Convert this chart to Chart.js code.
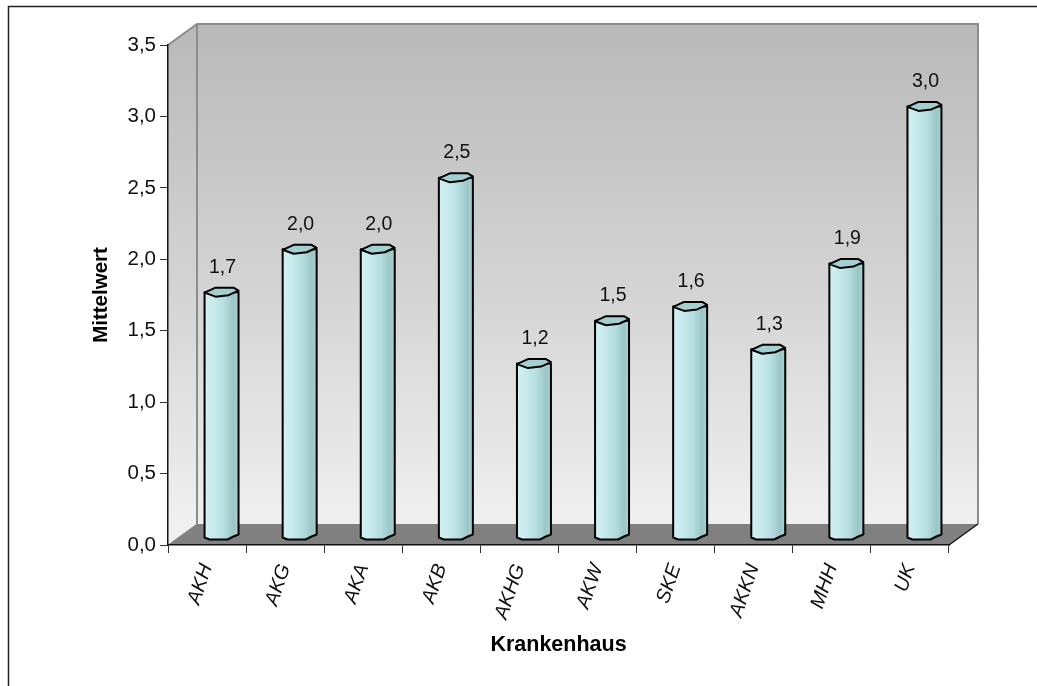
<!DOCTYPE html>
<html lang="de">
<head>
<meta charset="utf-8">
<title>Mittelwert je Krankenhaus</title>
<script src="https://cdn.jsdelivr.net/npm/chart.js@4/dist/chart.umd.min.js"></script>
<style>
html,body{margin:0;padding:0;background:#fff}
#wrap{position:relative;width:1037px;height:686px}
</style>
</head>
<body>
<div id="wrap"><canvas id="c" width="1037" height="686"></canvas></div>
<script>
const hospitals = ['AKH','AKG','AKA','AKB','AKHG','AKW','SKE','AKKN','MHH','UK'];
const meanValues = [1.7,2.0,2.0,2.5,1.2,1.5,1.6,1.3,1.9,3.0];
const yAxisMax = 3.5;
const yAxisStep = 0.5;
const xAxisTitle = 'Krankenhaus';
const yAxisTitle = 'Mittelwert';

const FONT = '"Liberation Sans", Arial, sans-serif';
const decimal = v => v.toFixed(1).replace('.', ',');

// Depth of the pseudo-3D box, and of the bars standing in its middle.
const WALL_DX = 29, WALL_DY = -21;
const BAR_DX = 14.5, BAR_DY = -10;

function fillPoly(ctx, pts, fill) {
  ctx.beginPath();
  pts.forEach((p, i) => i ? ctx.lineTo(p[0], p[1]) : ctx.moveTo(p[0], p[1]));
  ctx.closePath();
  ctx.fillStyle = fill;
  ctx.fill();
}

const box3d = {
  id: 'box3d',
  beforeDraw(chart) {
    const {ctx, chartArea: a} = chart;
    ctx.save();
    ctx.fillStyle = '#fff';
    ctx.fillRect(0, 0, chart.width, chart.height);

    // Page frame: only the top and left edges are ruled.
    ctx.strokeStyle = '#222';
    ctx.lineWidth = 1.5;
    ctx.beginPath();
    ctx.moveTo(8.5, 686);
    ctx.lineTo(8.5, 6.5);
    ctx.lineTo(1037, 6.5);
    ctx.stroke();

    const bx = a.left + WALL_DX, bt = a.top + WALL_DY, bb = a.bottom + WALL_DY, br = a.right + WALL_DX;
    const wall = ctx.createLinearGradient(0, bt, 0, bb);
    wall.addColorStop(0, '#b9b9b9');
    wall.addColorStop(0.55, '#d5d5d5');
    wall.addColorStop(1, '#f0f0f0');
    fillPoly(ctx, [[bx, bt], [br, bt], [br, bb], [bx, bb]], wall);
    fillPoly(ctx, [[a.left, a.top], [bx, bt], [bx, bb], [a.left, a.bottom]], wall);
    fillPoly(ctx, [[a.left, a.bottom], [bx, bb], [br, bb], [a.right, a.bottom]], '#808080');

    // Grey edges of the box.
    ctx.strokeStyle = '#8c8c8c';
    ctx.lineWidth = 2;
    ctx.beginPath();
    ctx.moveTo(a.left, a.top);
    ctx.lineTo(bx, bt);
    ctx.lineTo(br, bt);
    ctx.lineTo(br, bb);
    ctx.moveTo(bx, bt);
    ctx.lineTo(bx, bb);
    ctx.stroke();
    ctx.lineWidth = 1;
    ctx.beginPath();
    ctx.moveTo(a.left, a.bottom);
    ctx.lineTo(bx, bb);
    ctx.stroke();

    // Front right floor edge.
    ctx.strokeStyle = '#111';
    ctx.lineWidth = 1.3;
    ctx.beginPath();
    ctx.moveTo(a.right, a.bottom);
    ctx.lineTo(br, bb);
    ctx.stroke();
    ctx.restore();
  },
  beforeDatasetDraw(chart) {
    chart.ctx.save();
    chart.ctx.translate(BAR_DX, BAR_DY);
  },
  afterDatasetDraw(chart, args) {
    const ctx = chart.ctx;
    args.meta.data.forEach((bar, i) => {
      const cx = bar.x, top = bar.y, base = bar.base, r = bar.width / 2, k = r / 17;
      const body = ctx.createLinearGradient(cx - r, 0, cx + r, 0);
      body.addColorStop(0, '#d2f0f2');
      body.addColorStop(0.3, '#c6eaec');
      body.addColorStop(0.6, '#b4dcde');
      body.addColorStop(0.85, '#9cc6c6');
      body.addColorStop(1, '#a9d2d2');

      // Body with its faceted foot.
      ctx.beginPath();
      ctx.moveTo(cx - r, top);
      ctx.lineTo(cx - r, base + 3);
      ctx.lineTo(cx - 12 * k, base + 5);
      ctx.lineTo(cx + 6 * k, base + 5);
      ctx.lineTo(cx + 12 * k, base + 2);
      ctx.lineTo(cx + r, base);
      ctx.lineTo(cx + r, top);
      ctx.closePath();
      ctx.fillStyle = body;
      ctx.fill();
      ctx.strokeStyle = '#000';
      ctx.lineWidth = 2;
      ctx.lineJoin = 'round';
      ctx.stroke();

      // Faceted top cap.
      ctx.beginPath();
      ctx.moveTo(cx - r, top + 0.5);
      ctx.lineTo(cx - 6 * k, top - 4.5);
      ctx.lineTo(cx + 12 * k, top - 4.5);
      ctx.lineTo(cx + r, top - 1.5);
      ctx.lineTo(cx + 7 * k, top + 3);
      ctx.lineTo(cx - 6 * k, top + 4.5);
      ctx.closePath();
      ctx.fillStyle = '#a4cfd0';
      ctx.fill();
      ctx.stroke();

      // Value above the cap.
      ctx.fillStyle = '#111';
      ctx.font = '19.5px ' + FONT;
      ctx.textAlign = 'center';
      ctx.textBaseline = 'middle';
      ctx.fillText(decimal(meanValues[i]), cx + 1, top - 25);
    });
    ctx.restore();
  }
};

new Chart(document.getElementById('c'), {
  type: 'bar',
  data: {
    labels: hospitals,
    datasets: [{
      label: yAxisTitle,
      data: meanValues,
      backgroundColor: '#b4dcde',
      borderWidth: 0,
      categoryPercentage: 1,
      barPercentage: 0.435,
      clip: false
    }]
  },
  options: {
    responsive: false,
    animation: false,
    events: [],
    layout: {padding: {left: 89, right: 88, top: 45, bottom: 28}},
    plugins: {legend: {display: false}, tooltip: {enabled: false}, title: {display: false}},
    scales: {
      y: {
        min: 0,
        max: yAxisMax,
        afterFit(s) { s.width = 79; },
        ticks: {
          stepSize: yAxisStep,
          color: '#111',
          padding: 4,
          font: {family: FONT, size: 20.5},
          callback: v => decimal(v)
        },
        grid: {drawOnChartArea: false, color: '#333', tickLength: 8, lineWidth: 1},
        border: {color: '#111', width: 1.5},
        title: {display: true, text: yAxisTitle, color: '#000', padding: 0,
                font: {family: FONT, size: 20.5, weight: 'bold'}}
      },
      x: {
        afterFit(s) { s.height = 113; },
        ticks: {
          color: '#111',
          autoSkip: false,
          minRotation: 71,
          maxRotation: 71,
          padding: 8,
          labelOffset: 0,
          font: {family: FONT, size: 20, style: 'italic'}
        },
        grid: {offset: true, drawOnChartArea: false, color: '#333', tickLength: 8, lineWidth: 1},
        border: {color: '#111', width: 1.5},
        title: {display: true, text: xAxisTitle, color: '#000', padding: 0,
                font: {family: FONT, size: 21.5, weight: 'bold'}}
      }
    }
  },
  plugins: [box3d]
});
</script>
</body>
</html>
